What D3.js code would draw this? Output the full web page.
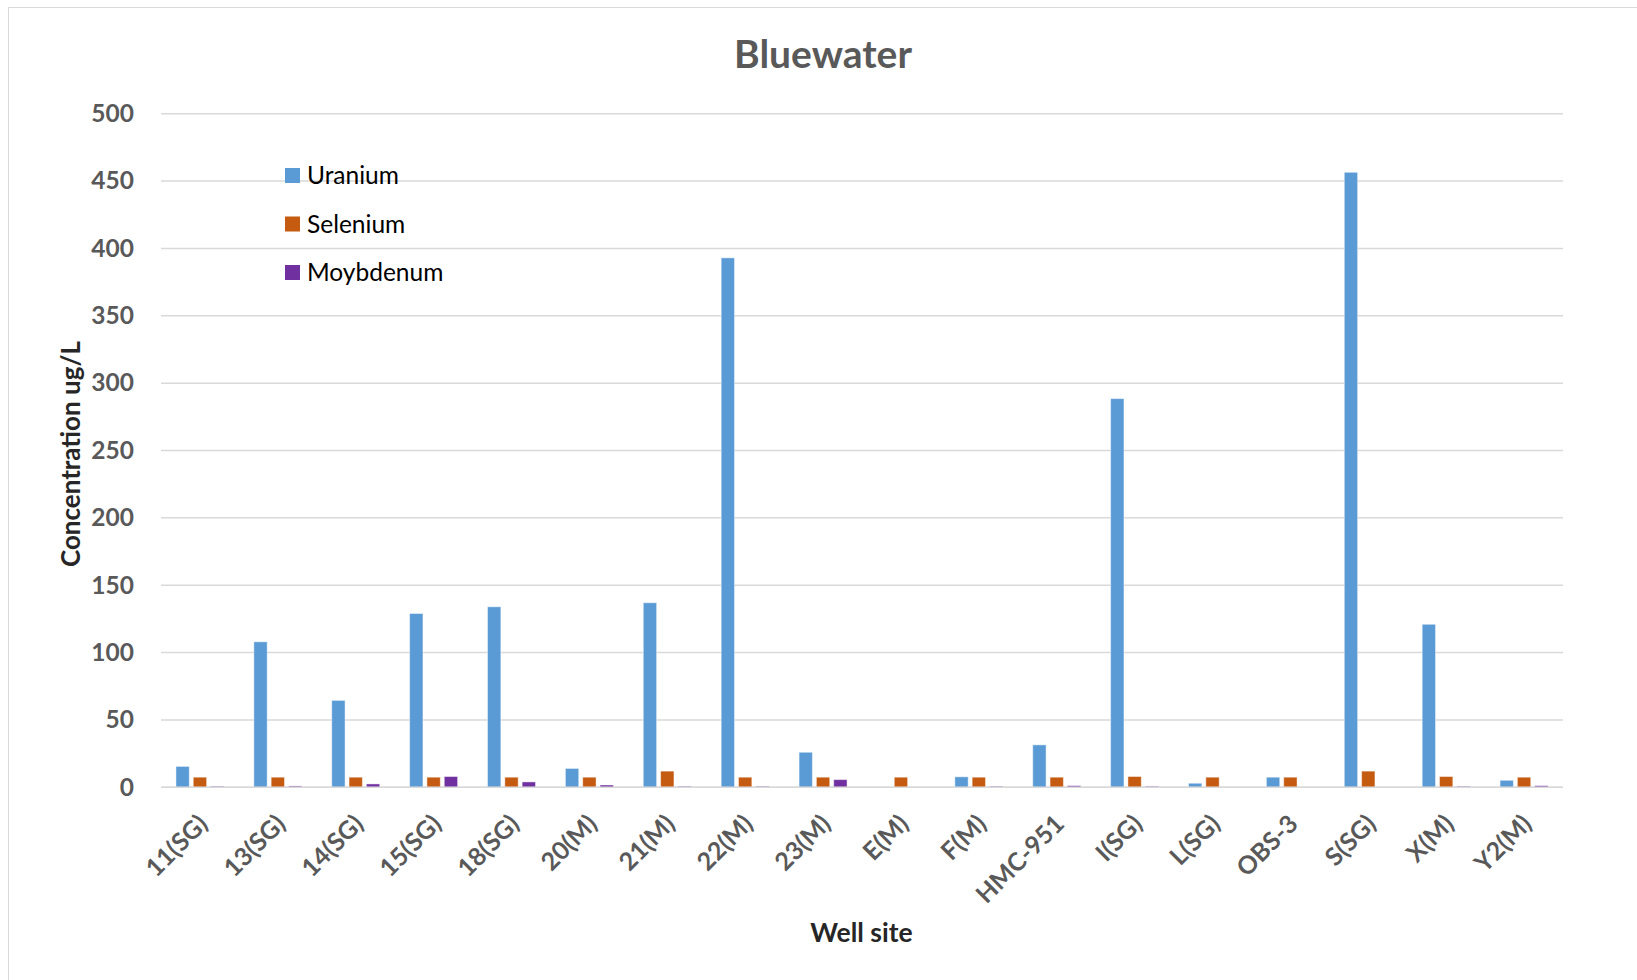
<!DOCTYPE html>
<html>
<head>
<meta charset="utf-8">
<script src="https://cdn.jsdelivr.net/npm/d3@7"></script>
<style>
  html, body { margin: 0; padding: 0; background: #fff; }
  svg { display: block; }
  text { font-family: Lato, "Open Sans", "Liberation Sans", sans-serif; }
</style>
</head>
<body>
<svg id="chart" width="1637" height="980"></svg>
<script>
const categories = ["11(SG)", "13(SG)", "14(SG)", "15(SG)", "18(SG)", "20(M)", "21(M)", "22(M)", "23(M)", "E(M)", "F(M)", "HMC-951", "I(SG)", "L(SG)", "OBS-3", "S(SG)", "X(M)", "Y2(M)"];
const seriesNames = ["Uranium", "Selenium", "Moybdenum"];
const uranium    = [15.5, 108, 64.5, 129, 134, 14, 137, 393, 26, 0, 7.8, 31.5, 288.5, 3, 7.5, 456.5, 121, 5.2];
const selenium   = [7.5, 7.5, 7.5, 7.5, 7.5, 7.5, 12, 7.5, 7.5, 7.5, 7.5, 7.5, 8, 7.5, 7.5, 12, 8, 7.5];
const moybdenum  = [0.8, 1, 2.5, 8, 4, 1.7, 0.8, 0.8, 5.7, 0, 0.8, 1.2, 0.8, 0, 0, 0, 0.8, 1.2];
const yTicks     = [0, 50, 100, 150, 200, 250, 300, 350, 400, 450, 500];
const colors     = ["#5B9BD5", "#C55A11", "#7030A0"];

const seriesValues = [uranium, selenium, moybdenum];

const svg = d3.select("#chart");
const margin = { left: 161, right: 1637 - 1563, top: 113.7, bottom: 980 - 787.3 };
const W = 1637, H = 980;

// outer border
svg.append("rect").attr("x", 8.5).attr("y", 7.5).attr("width", 1640).attr("height", 990)
  .attr("fill", "none").attr("stroke", "#d9d9d9").attr("stroke-width", 1);

const x0 = d3.scaleBand().domain(categories)
  .range([margin.left, W - margin.right])
  .paddingInner(0.384).paddingOuter(0.192);
const x1 = d3.scaleBand().domain(seriesNames)
  .range([0, x0.bandwidth()]).paddingInner(0.23).paddingOuter(0);
const y = d3.scaleLinear().domain([0, 500]).range([H - margin.bottom, margin.top]);

// gridlines
svg.append("g").selectAll("line").data(yTicks).join("line")
  .attr("x1", margin.left).attr("x2", W - margin.right)
  .attr("y1", d => y(d)).attr("y2", d => y(d))
  .attr("stroke", "#d9d9d9").attr("stroke-width", 1.5);

// y axis
const yAxis = d3.axisLeft(y).tickValues(yTicks).tickSize(0).tickPadding(27);
const gy = svg.append("g").attr("transform", `translate(${margin.left},0)`).call(yAxis);
gy.select(".domain").remove();
gy.selectAll("text").attr("font-size", 24.5).attr("font-weight", "bold").attr("fill", "#595959")
  .attr("font-family", "Lato, sans-serif");

// bars
const data = categories.map((c, i) => ({ c, vals: seriesNames.map((s, k) => ({ s, k, v: seriesValues[k][i] })) }));
const groups = svg.append("g").selectAll("g").data(data).join("g")
  .attr("transform", d => `translate(${x0(d.c)},0)`);
groups.selectAll("rect").data(d => d.vals.filter(v => v.v > 0)).join("rect")
  .attr("x", d => x1(d.s)).attr("width", x1.bandwidth())
  .attr("y", d => y(d.v)).attr("height", d => y(0) - y(d.v))
  .attr("fill", d => colors[d.k])
  .attr("stroke", "#ffffff").attr("stroke-opacity", 0.45).attr("stroke-width", 1);

// baseline
svg.append("line").attr("x1", margin.left).attr("x2", W - margin.right)
  .attr("y1", y(0)).attr("y2", y(0)).attr("stroke", "#d9d9d9").attr("stroke-width", 1.5);

// x axis labels
const xAxis = d3.axisBottom(x0).tickSize(0).tickPadding(0);
const gx = svg.append("g").attr("transform", `translate(0,${y(0)})`).call(xAxis);
gx.select(".domain").remove();
gx.selectAll("text")
  .attr("font-size", 25).attr("font-weight", "bold").attr("fill", "#595959")
  .attr("font-family", "Lato, sans-serif")
  .attr("text-anchor", "end")
  .attr("dy", null).attr("y", null)
  .attr("transform", "translate(-5,24) rotate(-45)")
  .attr("dominant-baseline", "hanging");

// title
svg.append("text").attr("x", 823).attr("y", 67.7).attr("text-anchor", "middle")
  .attr("font-size", 39).attr("font-weight", "bold").attr("fill", "#595959").text("Bluewater");

// axis titles
svg.append("text").attr("transform", "translate(80,454) rotate(-90)").attr("text-anchor", "middle")
  .attr("font-size", 26).attr("font-weight", "bold").attr("fill", "#262626").text("Concentration ug/L");
svg.append("text").attr("x", 861.5).attr("y", 941.7).attr("text-anchor", "middle")
  .attr("font-size", 26.5).attr("font-weight", "bold").attr("fill", "#262626").text("Well site");

// legend
const legend = svg.append("g").selectAll("g").data(seriesNames).join("g")
  .attr("transform", (d, i) => `translate(285,${168 + i * 48.5})`);
legend.append("rect").attr("width", 15).attr("height", 15).attr("fill", (d, i) => colors[i]);
legend.append("text").attr("x", 22).attr("y", 16).attr("font-size", 24.5).attr("fill", "#000")
  .attr("font-family", "Lato, sans-serif").text(d => d);
</script>
</body>
</html>
